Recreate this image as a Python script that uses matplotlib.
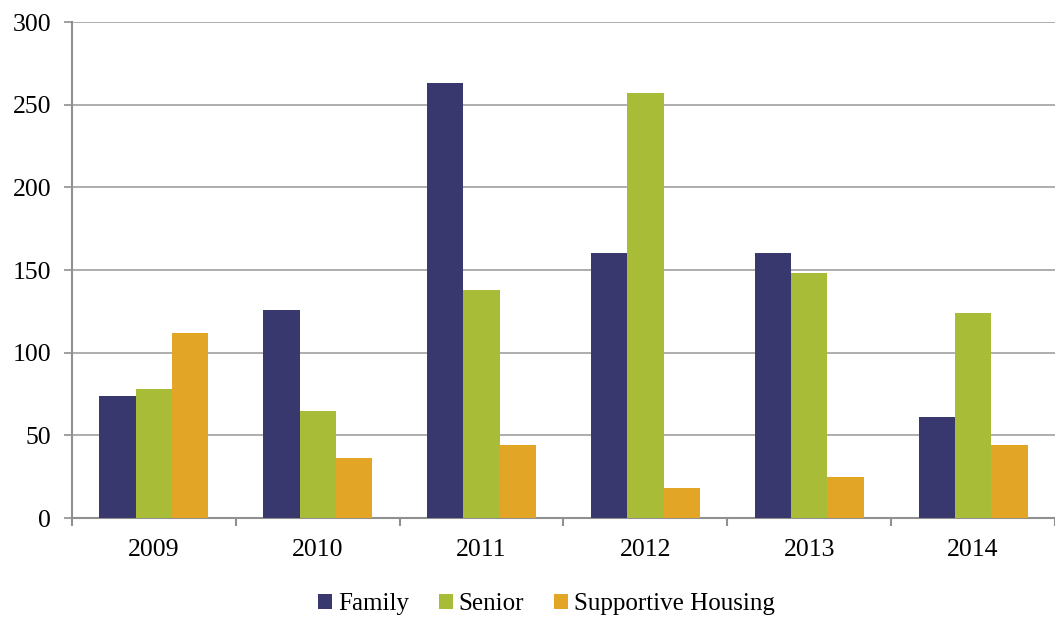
import numpy as np
import matplotlib
matplotlib.use('Agg')
import matplotlib.pyplot as plt

years = ['2009', '2010', '2011', '2012', '2013', '2014']
family = [74, 126, 263, 160, 160, 61]
senior = [78, 65, 138, 257, 148, 124]
supportive = [112, 36, 44, 18, 25, 44]
series_names = ['Family', 'Senior', 'Supportive Housing']
colors = ['#38386e', '#a8bc38', '#e2a526']

plt.rcParams['font.family'] = ['Liberation Serif', 'DejaVu Serif']

fig = plt.figure(figsize=(10.55, 6.22), dpi=100)
ax = fig.add_axes([0.0682, 0.1672, 0.9318, 0.7974])

x = np.arange(len(years))
w = 0.222
for i, vals in enumerate([family, senior, supportive]):
    ax.bar(x + (i - 1) * w, vals, width=w, color=colors[i], label=series_names[i], zorder=3)

ax.set_xlim(-0.5, len(years) - 0.5)
ax.set_ylim(0, 300)
ax.set_yticks(range(0, 301, 50))
ax.yaxis.grid(True, color='#a0a0a0', linewidth=1.2, zorder=0)

ax.set_xticks(x)
ax.set_xticklabels(years)
ax.set_xticks(np.arange(-0.5, len(years), 1), minor=True)
ax.tick_params(axis='x', which='major', length=0, pad=15, labelsize=18.5)
ax.tick_params(axis='x', which='minor', length=6, color='#909090', width=1.5)
ax.tick_params(axis='y', length=6, color='#909090', width=1.2, labelsize=18.5, pad=9)

for s in ['top', 'right']:
    ax.spines[s].set_visible(False)
for s in ['left', 'bottom']:
    ax.spines[s].set_color('#909090')
    ax.spines[s].set_linewidth(1.5)

fig.legend(loc='center', bbox_to_anchor=(0.518, 0.029), ncol=3, frameon=False,
           fontsize=18, handlelength=0.55, handleheight=0.55, handletextpad=0.25,
           columnspacing=1.2)

fig.savefig('out.png', dpi=100)
